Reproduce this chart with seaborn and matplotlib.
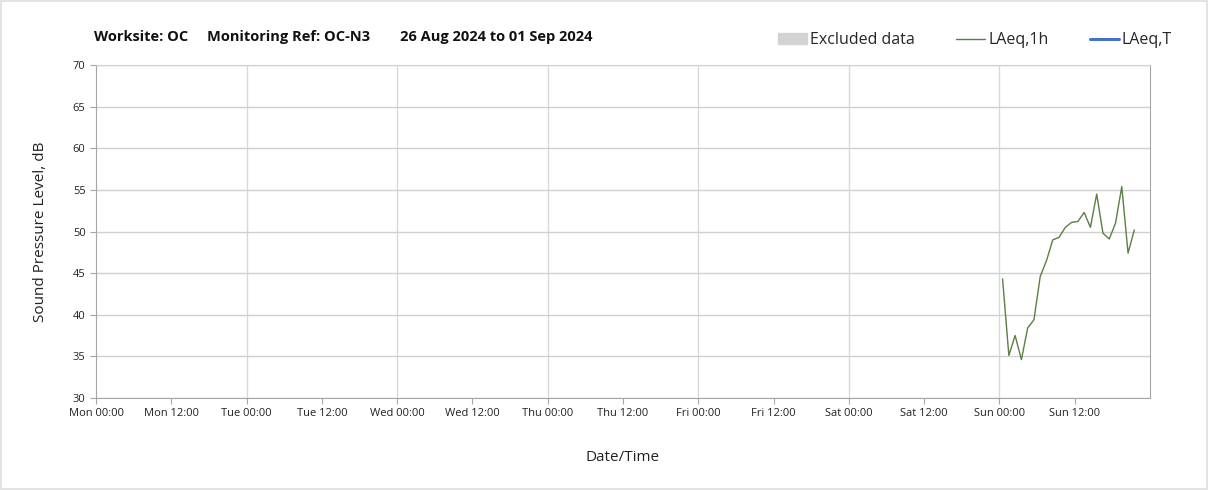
import pandas as pd
import matplotlib.pyplot as plt
import matplotlib.patches as mpatches
from matplotlib.lines import Line2D
import seaborn as sns

# 数据：LAeq,1h 逐时值（周日 00:30 起）
times = ['2024-09-01 00:30', '2024-09-01 01:30', '2024-09-01 02:30', '2024-09-01 03:30',
         '2024-09-01 04:30', '2024-09-01 05:30', '2024-09-01 06:30', '2024-09-01 07:30',
         '2024-09-01 08:30', '2024-09-01 09:30', '2024-09-01 10:30', '2024-09-01 11:30',
         '2024-09-01 12:30', '2024-09-01 13:30', '2024-09-01 14:30', '2024-09-01 15:30',
         '2024-09-01 16:30', '2024-09-01 17:30', '2024-09-01 18:30', '2024-09-01 19:30',
         '2024-09-01 20:30', '2024-09-01 21:30']
laeq_1h = [44.3, 35.1, 37.5, 34.6, 38.4, 39.4, 44.6, 46.5, 49.0, 49.3, 50.5,
           51.1, 51.2, 52.3, 50.5, 54.5, 49.8, 49.1, 51.0, 55.4, 47.4, 50.2]

tick_times = ['2024-08-26 00:00', '2024-08-26 12:00', '2024-08-27 00:00', '2024-08-27 12:00',
              '2024-08-28 00:00', '2024-08-28 12:00', '2024-08-29 00:00', '2024-08-29 12:00',
              '2024-08-30 00:00', '2024-08-30 12:00', '2024-08-31 00:00', '2024-08-31 12:00',
              '2024-09-01 00:00', '2024-09-01 12:00']
tick_labels = ['Mon 00:00', 'Mon 12:00', 'Tue 00:00', 'Tue 12:00', 'Wed 00:00', 'Wed 12:00',
               'Thu 00:00', 'Thu 12:00', 'Fri 00:00', 'Fri 12:00', 'Sat 00:00', 'Sat 12:00',
               'Sun 00:00', 'Sun 12:00']
y_ticks = [30, 35, 40, 45, 50, 55, 60, 65, 70]

df = pd.DataFrame({'time': pd.to_datetime(times), 'LAeq,1h': laeq_1h})

sns.set_style("white")
plt.rcParams['font.family'] = ['Open Sans', 'DejaVu Sans']

fig = plt.figure(figsize=(12.08, 4.9), dpi=100)
fig.patch.set_edgecolor('#e3e3e3')
fig.patch.set_linewidth(1.5)
ax = fig.add_axes([0.0795, 0.188, 0.8725, 0.679])

sns.lineplot(data=df, x='time', y='LAeq,1h', color='#5b7f45', linewidth=1.0, ax=ax, legend=False)

ax.set_xlim(pd.Timestamp('2024-08-26 00:00'), pd.Timestamp('2024-09-02 00:00'))
ax.set_ylim(30, 70)
ax.set_xticks(pd.to_datetime(tick_times))
ax.set_xticklabels(tick_labels, fontsize=8, color='#222222')
ax.set_yticks(y_ticks)
ax.set_yticklabels([str(v) for v in y_ticks], fontsize=8, color='#222222')

# 网格：水平每 5 dB，竖直只在 00:00
ax.grid(True, axis='y', color='#d0d0d0', linewidth=1)
ax.grid(True, axis='x', color='#d9d9d9', linewidth=1)
for i, gl in enumerate(ax.get_xgridlines()):
    if i % 2 == 1 or i == 0:
        gl.set_visible(False)
ax.set_axisbelow(True)

for s in ['left', 'bottom', 'right']:
    ax.spines[s].set_color('#a6a6a6')
ax.spines['top'].set_color('#d0d0d0')
ax.tick_params(axis='both', direction='out', length=4, color='#a6a6a6', bottom=True, left=True)

ax.set_xlabel('Date/Time', fontsize=11, color='#222222', labelpad=22)
ax.set_ylabel('Sound Pressure Level, dB', fontsize=11, color='#222222', labelpad=18)

fig.text(0.078, 0.925, 'Worksite: OC     Monitoring Ref: OC-N3        26 Aug 2024 to 01 Sep 2024',
         fontsize=10.5, fontweight='bold', color='#111111', va='center')

handles = [mpatches.Patch(color='#d3d3d3'),
           Line2D([0], [0], color='#5b7f45', linewidth=1.0),
           Line2D([0], [0], color='#4472c4', linewidth=2.2)]
fig.legend(handles, ['Excluded data', 'LAeq,1h', 'LAeq,T'], loc='center right',
           bbox_to_anchor=(0.982, 0.918), ncol=3, frameon=False, fontsize=11.5,
           handlelength=1.8, handletextpad=0.2, columnspacing=2.6)

fig.savefig('out.png', dpi=100, edgecolor=fig.get_edgecolor())
